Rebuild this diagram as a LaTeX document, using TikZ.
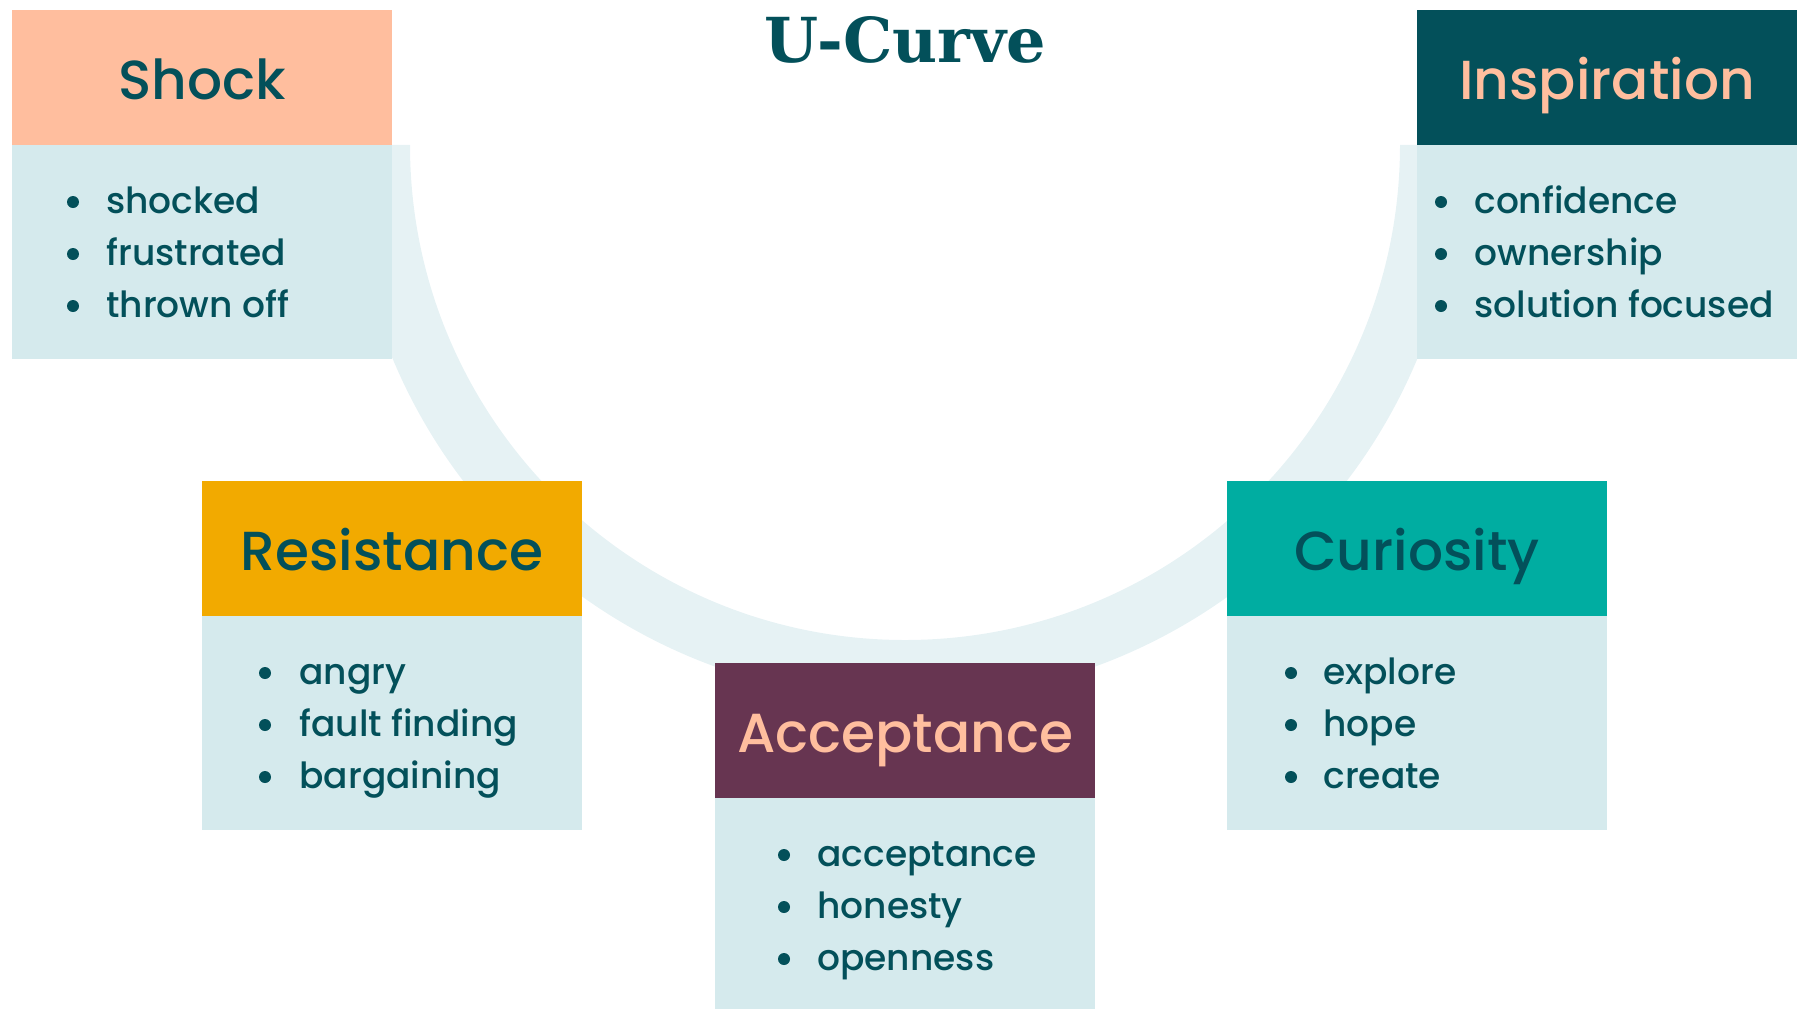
\documentclass[tikz,border=0pt]{standalone}
\usepackage{fontspec}
\usepackage{tikz}
\usetikzlibrary{positioning}
\setmainfont{Poppins Medium}
\newfontfamily\slabfont{DejaVu Serif}
\definecolor{inkteal}{HTML}{03505A}
\definecolor{peach}{HTML}{FFBE9E}
\definecolor{gold}{HTML}{F2AA00}
\definecolor{seateal}{HTML}{00ADA1}
\definecolor{plum}{HTML}{673551}
\definecolor{listbg}{HTML}{D5EAED}
\definecolor{bandbg}{HTML}{E6F2F4}
\tikzset{
  head/.style = {anchor=north west, minimum width=190pt, minimum height=67.5pt, inner sep=0, outer sep=0},
  listbox/.style = {fill=listbg, minimum width=190pt, minimum height=107pt, inner sep=0, outer sep=0},
  headtext/.style = {anchor=base, inner sep=0, font=\fontsize{27.5}{33}\selectfont},
  item/.style = {anchor=base west, inner sep=0, text=inkteal, font=\fontsize{18}{22}\selectfont},
  dot/.style = {fill=inkteal}
}

\begin{document}
\begin{tikzpicture}[x=0.5pt, y=-0.5pt]
  \useasboundingbox (0,0) rectangle (1801,1008);
  \clip (0,0) rectangle (1801,1008);
  % the U band
  \draw [bandbg, line width=30pt] (380,145) arc [start angle=180, end angle=360, radius=262.5pt];
  \node [anchor=base, inner sep=0, text=inkteal, font=\slabfont\bfseries\fontsize{31}{36}\selectfont] (title) at (905,62) {U-Curve};

  % Shock
  \node [head, fill=peach] (shock) at (12,10) {};
  \node [headtext, text=inkteal] (shocktext) at (202,99) {Shock};
  \node [listbox, below=0pt of shock] (shockbody) {};
  \foreach \word [count=\i] in {shocked, frustrated, thrown off} {
    \fill [dot] (73,{202+52*(\i-1)}) circle [radius=3pt];
    \node [item] (shock\i) at (106,{213+52*(\i-1)}) {\word};
  }

  % Inspiration
  \node [head, fill=inkteal] (inspiration) at (1417,10) {};
  \node [headtext, text=peach] (inspirationtext) at (1607,99) {Inspiration};
  \node [listbox, below=0pt of inspiration] (inspirationbody) {};
  \foreach \word [count=\i] in {confidence, ownership, solution focused} {
    \fill [dot] (1441,{202+52*(\i-1)}) circle [radius=3pt];
    \node [item] (inspiration\i) at (1474,{213+52*(\i-1)}) {\word};
  }

  % Resistance
  \node [head, fill=gold] (resistance) at (202,481) {};
  \node [headtext, text=inkteal] (resistancetext) at (392,570) {Resistance};
  \node [listbox, below=0pt of resistance] (resistancebody) {};
  \foreach \word [count=\i] in {angry, fault finding, bargaining} {
    \fill [dot] (265,{673+52*(\i-1)}) circle [radius=3pt];
    \node [item] (resistance\i) at (299,{684+52*(\i-1)}) {\word};
  }

  % Curiosity
  \node [head, fill=seateal] (curiosity) at (1227,481) {};
  \node [headtext, text=inkteal] (curiositytext) at (1417,570) {Curiosity};
  \node [listbox, below=0pt of curiosity] (curiositybody) {};
  \foreach \word [count=\i] in {explore, hope, create} {
    \fill [dot] (1291,{673+52*(\i-1)}) circle [radius=3pt];
    \node [item] (curiosity\i) at (1323,{684+52*(\i-1)}) {\word};
  }

  % Acceptance
  \node [head, fill=plum] (acceptance) at (715,663) {};
  \node [headtext, text=peach] (acceptancetext) at (905,752) {Acceptance};
  \node [listbox, below=0pt of acceptance] (acceptancebody) {};
  \foreach \word [count=\i] in {acceptance, honesty, openness} {
    \fill [dot] (784,{855+52*(\i-1)}) circle [radius=3pt];
    \node [item] (acceptance\i) at (817,{866+52*(\i-1)}) {\word};
  }
\end{tikzpicture}
\end{document}
